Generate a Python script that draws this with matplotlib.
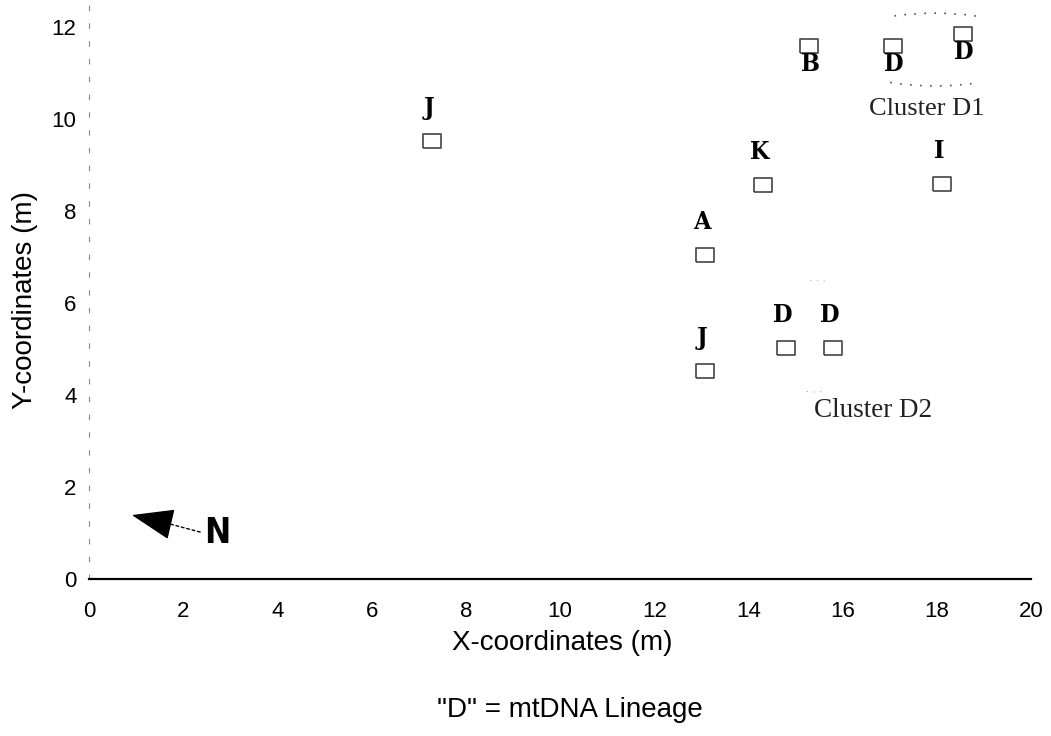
import matplotlib
matplotlib.use("Agg")
import matplotlib.pyplot as plt
from matplotlib.patches import Arc

# ---- data ----
site_x = [7.28, 14.31, 18.11, 13.08, 13.08, 14.80, 15.80, 15.29, 17.07, 18.56]
site_y = [9.52, 8.57, 8.59, 7.04, 4.52, 5.02, 5.02, 11.59, 11.59, 11.85]
lineage = ["J", "K", "I", "A", "J", "D", "D", "B", "D", "D"]
label_below = [False, False, False, False, False, False, False, True, True, True]
x_ticks = [0, 2, 4, 6, 8, 10, 12, 14, 16, 18, 20]
y_ticks = [0, 2, 4, 6, 8, 10, 12]

fig = plt.figure(figsize=(10.51, 7.36), dpi=100)
ax = fig.add_axes([89 / 1051, 157 / 736, 942 / 1051, 579 / 736])
ax.set_xlim(0, 20)
ax.set_ylim(0, 579 / 46)

rect = [(-1.3, -1), (1.3, -1), (1.3, 1), (-1.3, 1), (-1.3, -1)]
ax.scatter(site_x, site_y, marker=rect, s=170, facecolors="white",
           edgecolors="#444444", linewidths=1.2, zorder=3)

for x, y, lab, below in zip(site_x, site_y, lineage, label_below):
    dy = -0.40 if below else 0.72
    dx = 0.02 if below else -0.065
    ax.text(x + dx, y + dy, lab, ha="center", va="center",
            fontsize=18, fontweight="heavy", fontstretch="condensed",
            family="DejaVu Serif", color="black", zorder=4)

# cluster outlines (only the faint visible arcs)
ax.add_patch(Arc((17.96, 11.51), 4.5, 1.58, theta1=40, theta2=140,
                 ls=(0, (1, 5)), lw=1.2, edgecolor="#555555"))
ax.add_patch(Arc((17.96, 11.51), 4.5, 1.58, theta1=217, theta2=323,
                 ls=(0, (1, 5)), lw=1.2, edgecolor="#555555"))
ax.add_patch(Arc((15.41, 5.28), 2.4, 2.43, theta1=80, theta2=100,
                 ls=(0, (1, 5)), lw=0.8, edgecolor="#aaaaaa"))
ax.add_patch(Arc((15.41, 5.28), 2.4, 2.43, theta1=262, theta2=278,
                 ls=(0, (1, 5)), lw=0.8, edgecolor="#aaaaaa"))
ax.text(17.79, 10.22, "Cluster D1", ha="center", va="center",
        fontsize=19, family="Liberation Serif", color="#222222")
ax.text(16.65, 3.67, "Cluster D2", ha="center", va="center",
        fontsize=19.5, family="Liberation Serif", color="#222222")

# north arrow: dotted shaft + solid head
ax.annotate("", xy=(1.63, 1.22), xytext=(2.36, 1.02),
            arrowprops=dict(arrowstyle="-", color="black",
                            ls=(0, (2, 2)), lw=1.0, shrinkA=0, shrinkB=0))
ax.annotate("", xy=(0.91, 1.39), xytext=(1.70, 1.20),
            arrowprops=dict(arrowstyle="-|>,head_length=1.35,head_width=0.5",
                            mutation_scale=20, color="black",
                            lw=1.0, shrinkA=0, shrinkB=0))
ax.text(2.72, 1.0, "N", ha="center", va="center", fontsize=25,
        fontweight="bold", fontstretch="condensed", family="DejaVu Sans",
        color="black")

for s in ["top", "right"]:
    ax.spines[s].set_visible(False)
ax.spines["bottom"].set_linewidth(1.6)
ax.spines["left"].set_linestyle((0, (4, 12)))
ax.spines["left"].set_color("#888888")
ax.spines["left"].set_linewidth(0.8)

ax.set_xticks(x_ticks)
ax.set_yticks(y_ticks)
ax.tick_params(length=0, labelsize=16)
ax.tick_params(axis="x", pad=16)
ax.tick_params(axis="y", pad=9)
for t in ax.get_xticklabels() + ax.get_yticklabels():
    t.set_family("Liberation Sans")

ax.set_xlabel("X-coordinates (m)", fontsize=20, family="Liberation Sans")
ax.set_ylabel("Y-coordinates (m)", fontsize=20, family="Liberation Sans")
ax.xaxis.label.set_va("center")
ax.yaxis.label.set_va("center")
ax.xaxis.set_label_coords(0.502, -0.1105)
ax.yaxis.set_label_coords(-0.0679, 0.482)

fig.text(570 / 1051, 1 - 710 / 736, "\"D\" = mtDNA Lineage", ha="center",
         va="center", fontsize=20, family="Liberation Sans")

fig.savefig("out.png", dpi=100)
